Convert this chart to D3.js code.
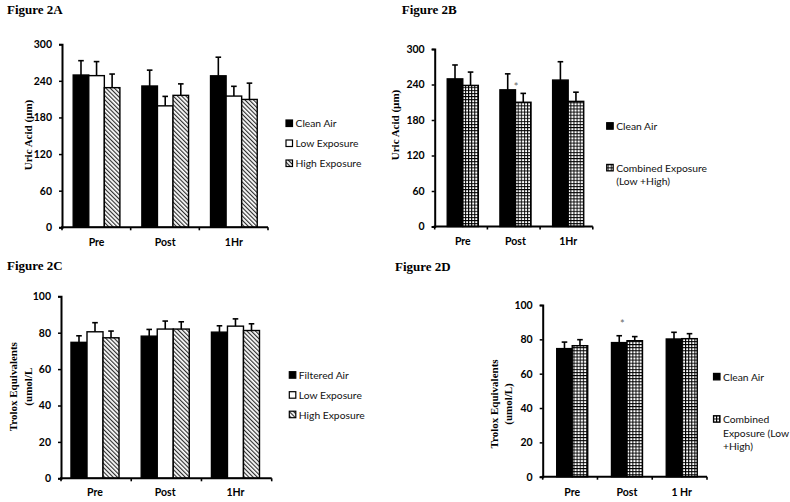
<!DOCTYPE html>
<html><head><meta charset="utf-8">
<script src="https://cdn.jsdelivr.net/npm/d3@7"></script>
<style>body{margin:0;background:#fff} svg{display:block}</style>
</head><body>
<svg id="chart" width="790" height="502"></svg>
<script>
// ---------- DATA ----------
const timepointsABC = ["Pre", "Post", "1Hr"];
const timepointsD = ["Pre", "Post", "1 Hr"];
const uricTicks = [0, 60, 120, 180, 240, 300];
const troloxTicks = [0, 20, 40, 60, 80, 100];

const legendA = ["Clean Air", "Low Exposure", "High Exposure"];
const legendB = ["Clean Air", "Combined Exposure\n(Low +High)"];
const legendC = ["Filtered Air", "Low Exposure", "High Exposure"];
const legendD = ["Clean Air", "Combined\nExposure (Low\n+High)"];

const figAClean = [249.5, 231.5, 248.2];
const figACleanErr = [23.5, 26, 30.5];
const figALow = [248.5, 199, 215];
const figALowErr = [23, 15.5, 16];
const figAHigh = [228.8, 216.2, 209.5];
const figAHighErr = [22.3, 18.8, 26.7];

const figBClean = [249.5, 231, 247.5];
const figBCleanErr = [23.5, 27, 31];
const figBCombined = [238.5, 210, 211.5];
const figBCombinedErr = [22.5, 15, 15.5];

const figCFiltered = [74.7, 78.1, 80.3];
const figCFilteredErr = [3.6, 3.7, 3.5];
const figCLow = [80.5, 82.0, 83.6];
const figCLowErr = [5.0, 4.4, 4.0];
const figCHigh = [77.2, 82.0, 81.2];
const figCHighErr = [3.7, 4.0, 3.7];

const figDClean = [74.6, 78.1, 80.2];
const figDCleanErr = [3.8, 4.0, 3.9];
const figDCombined = [76.3, 79.2, 80.4];
const figDCombinedErr = [3.5, 2.4, 2.9];

// ---------- DRAWING ----------
const svg = d3.select("#chart");
const defs = svg.append("defs");

// diagonal hatch "\\\\"
const hatch = defs.append("pattern").attr("id", "hatch")
  .attr("patternUnits", "userSpaceOnUse").attr("width", 3).attr("height", 3)
  .attr("patternTransform", "rotate(-45)");
hatch.append("rect").attr("width", 3).attr("height", 3).attr("fill", "#fff");
hatch.append("line").attr("x1", 0.6).attr("y1", 0).attr("x2", 0.6).attr("y2", 3)
  .attr("stroke", "#222").attr("stroke-width", 1.1);

// checker grid
const grid = defs.append("pattern").attr("id", "grid")
  .attr("patternUnits", "userSpaceOnUse").attr("width", 3.1).attr("height", 3.1);
grid.append("rect").attr("width", 3.1).attr("height", 3.1).attr("fill", "#000");
grid.append("rect").attr("x", 1).attr("y", 1).attr("width", 2.1).attr("height", 2.1).attr("fill", "#fff");

const FILL = { black: "#000", white: "#fff", hatch: "url(#hatch)", grid: "url(#grid)" };
const serif = "'Liberation Serif','Times New Roman',serif";
const sans = "Lato,'Open Sans',sans-serif";

function drawPanel(cfg) {
  const g = svg.append("g");
  g.append("text").attr("x", cfg.titleX).attr("y", cfg.titleY)
    .attr("font-family", serif).attr("font-weight", "bold").attr("font-size", 13)
    .text(cfg.title);

  const y = d3.scaleLinear().domain([0, cfg.ticks[cfg.ticks.length - 1]]).range([cfg.yBase, cfg.yTop]);
  const x = d3.scaleBand().domain(cfg.cats).range([cfg.x0, cfg.x1])
    .paddingInner(cfg.pi).paddingOuter(cfg.po).align(cfg.align);
  const step = (cfg.x1 - cfg.x0) / cfg.cats.length;
  const xs = d3.scaleBand().domain(d3.range(cfg.series.length)).range([0, x.bandwidth()]);

  // bars
  cfg.series.forEach((s, si) => {
    const sg = g.append("g");
    sg.selectAll("rect").data(s.values).join("rect")
      .attr("x", (d, i) => x(cfg.cats[i]) + xs(si))
      .attr("y", d => y(d))
      .attr("width", xs.bandwidth())
      .attr("height", d => y(0) - y(d))
      .attr("fill", FILL[s.fill]).attr("stroke", "#000").attr("stroke-width", 1.4);
    // error bars (upper only)
    s.values.forEach((d, i) => {
      const cx = x(cfg.cats[i]) + xs(si) + xs.bandwidth() / 2;
      sg.append("line").attr("x1", cx).attr("x2", cx).attr("y1", y(d)).attr("y2", y(d + s.err[i]))
        .attr("stroke", "#000").attr("stroke-width", 1.6);
      sg.append("line").attr("x1", cx - 2.8).attr("x2", cx + 2.8).attr("y1", y(d + s.err[i])).attr("y2", y(d + s.err[i]))
        .attr("stroke", "#000").attr("stroke-width", 1.6);
    });
  });

  // y axis
  const ya = g.append("g").attr("transform", `translate(${cfg.x0},0)`)
    .call(d3.axisLeft(y).tickValues(cfg.ticks).tickSize(3).tickPadding(7).tickFormat(d3.format("d")));
  ya.select(".domain").attr("stroke-width", 2);
  ya.selectAll(".tick line").attr("stroke-width", 1.5);
  ya.selectAll("text").attr("font-family", sans).attr("font-weight", "bold").attr("font-size", 10.5).attr("fill", "#000");

  // x axis
  g.append("line").attr("x1", cfg.x0 - 1).attr("x2", cfg.x1).attr("y1", cfg.yBase).attr("y2", cfg.yBase)
    .attr("stroke", "#000").attr("stroke-width", 2);
  d3.range(cfg.cats.length + 1).forEach(k => {
    const tx = cfg.x0 + k * step;
    g.append("line").attr("x1", tx).attr("x2", tx).attr("y1", cfg.yBase).attr("y2", cfg.yBase + 3)
      .attr("stroke", "#000").attr("stroke-width", 1.6);
  });
  g.selectAll(".xlab").data(cfg.cats).join("text")
    .attr("x", d => x(d) + x.bandwidth() / 2).attr("y", cfg.xLabelY)
    .attr("dominant-baseline", "central").attr("text-anchor", "middle")
    .attr("font-family", sans).attr("font-weight", "bold").attr("font-size", 10.5)
    .text(d => d);

  // y title
  cfg.yTitle.forEach((t, k) => {
    g.append("text").attr("transform", `translate(${cfg.yTitleX[k]},${cfg.yTitleY}) rotate(-90)`)
      .attr("text-anchor", "middle").attr("dominant-baseline", "central")
      .attr("font-family", serif).attr("font-weight", "bold").attr("font-size", 11)
      .text(t);
  });

  // legend
  cfg.series.forEach((s, si) => {
    const ly = cfg.legendY[si];
    g.append("rect").attr("x", cfg.legendX).attr("y", ly - 3.3).attr("width", 6.5).attr("height", 6.5)
      .attr("fill", FILL[s.fill]).attr("stroke", "#000").attr("stroke-width", 1.2);
    s.name.split("\n").forEach((line, li) => {
      g.append("text").attr("x", cfg.legendX + 9.5).attr("y", ly + li * cfg.legendLine)
        .attr("dominant-baseline", "central")
        .attr("font-family", sans).attr("font-size", 10.3).attr("fill", "#111")
        .text(line);
    });
  });

  // significance asterisk
  if (cfg.star) {
    const sx = x(cfg.cats[cfg.star.cat]) + x.bandwidth() * cfg.star.frac;
    g.append("text").attr("x", sx).attr("y", y(cfg.star.at) + 2)
      .attr("text-anchor", "middle").attr("dominant-baseline", "central")
      .attr("font-family", sans).attr("font-size", 11).attr("fill", "#666").text("*");
  }
}

drawPanel({
  title: "Figure 2A", titleX: 7, titleY: 14,
  x0: 62, x1: 268, yBase: 227.3, yTop: 44.2, ticks: uricTicks, cats: timepointsABC,
  pi: 0.32, po: 0.16, align: 0.51, xLabelY: 242,
  yTitle: ["Uric Acid (\u00b5m)"], yTitleX: [28], yTitleY: 135,
  legendX: 286, legendY: [123.3, 143.3, 163.3], legendLine: 13,
  series: [
    { name: legendA[0], values: figAClean, err: figACleanErr, fill: "black" },
    { name: legendA[1], values: figALow, err: figALowErr, fill: "white" },
    { name: legendA[2], values: figAHigh, err: figAHighErr, fill: "hatch" }
  ]
});

drawPanel({
  title: "Figure 2B", titleX: 401.7, titleY: 13.5,
  x0: 434.7, x1: 592.8, yBase: 226.5, yTop: 49, ticks: uricTicks, cats: timepointsABC,
  pi: 0.41, po: 0.205, align: 0.58, xLabelY: 241,
  yTitle: ["Uric Acid (\u00b5m)"], yTitleX: [395], yTitleY: 125,
  legendX: 606.7, legendY: [126, 167.7], legendLine: 13.5,
  series: [
    { name: legendB[0], values: figBClean, err: figBCleanErr, fill: "black" },
    { name: legendB[1], values: figBCombined, err: figBCombinedErr, fill: "grid" }
  ],
  star: { cat: 1, frac: 0.52, at: 240 }
});

drawPanel({
  title: "Figure 2C", titleX: 7, titleY: 270,
  x0: 61, x1: 271.7, yBase: 478.3, yTop: 296.3, ticks: troloxTicks, cats: timepointsABC,
  pi: 0.316, po: 0.158, align: 0.45, xLabelY: 492.3,
  yTitle: ["Trolox Equivalents", "(umol/L"], yTitleX: [12.7, 28.3], yTitleY: 386.7,
  legendX: 289.3, legendY: [375, 395, 414.5], legendLine: 13,
  series: [
    { name: legendC[0], values: figCFiltered, err: figCFilteredErr, fill: "black" },
    { name: legendC[1], values: figCLow, err: figCLowErr, fill: "white" },
    { name: legendC[2], values: figCHigh, err: figCHighErr, fill: "hatch" }
  ]
});

drawPanel({
  title: "Figure 2D", titleX: 395, titleY: 270.7,
  x0: 542.7, x1: 707, yBase: 476.7, yTop: 305, ticks: troloxTicks, cats: timepointsD,
  pi: 0.434, po: 0.217, align: 0.59, xLabelY: 491.7,
  yTitle: ["Trolox Equivalents", "(umol/L)"], yTitleX: [494, 507.7], yTitleY: 404,
  legendX: 713.5, legendY: [376.7, 419], legendLine: 13.5,
  series: [
    { name: legendD[0], values: figDClean, err: figDCleanErr, fill: "black" },
    { name: legendD[1], values: figDCombined, err: figDCombinedErr, fill: "grid" }
  ],
  star: { cat: 1, frac: 0.35, at: 90.4 }
});
</script>
</body></html>
